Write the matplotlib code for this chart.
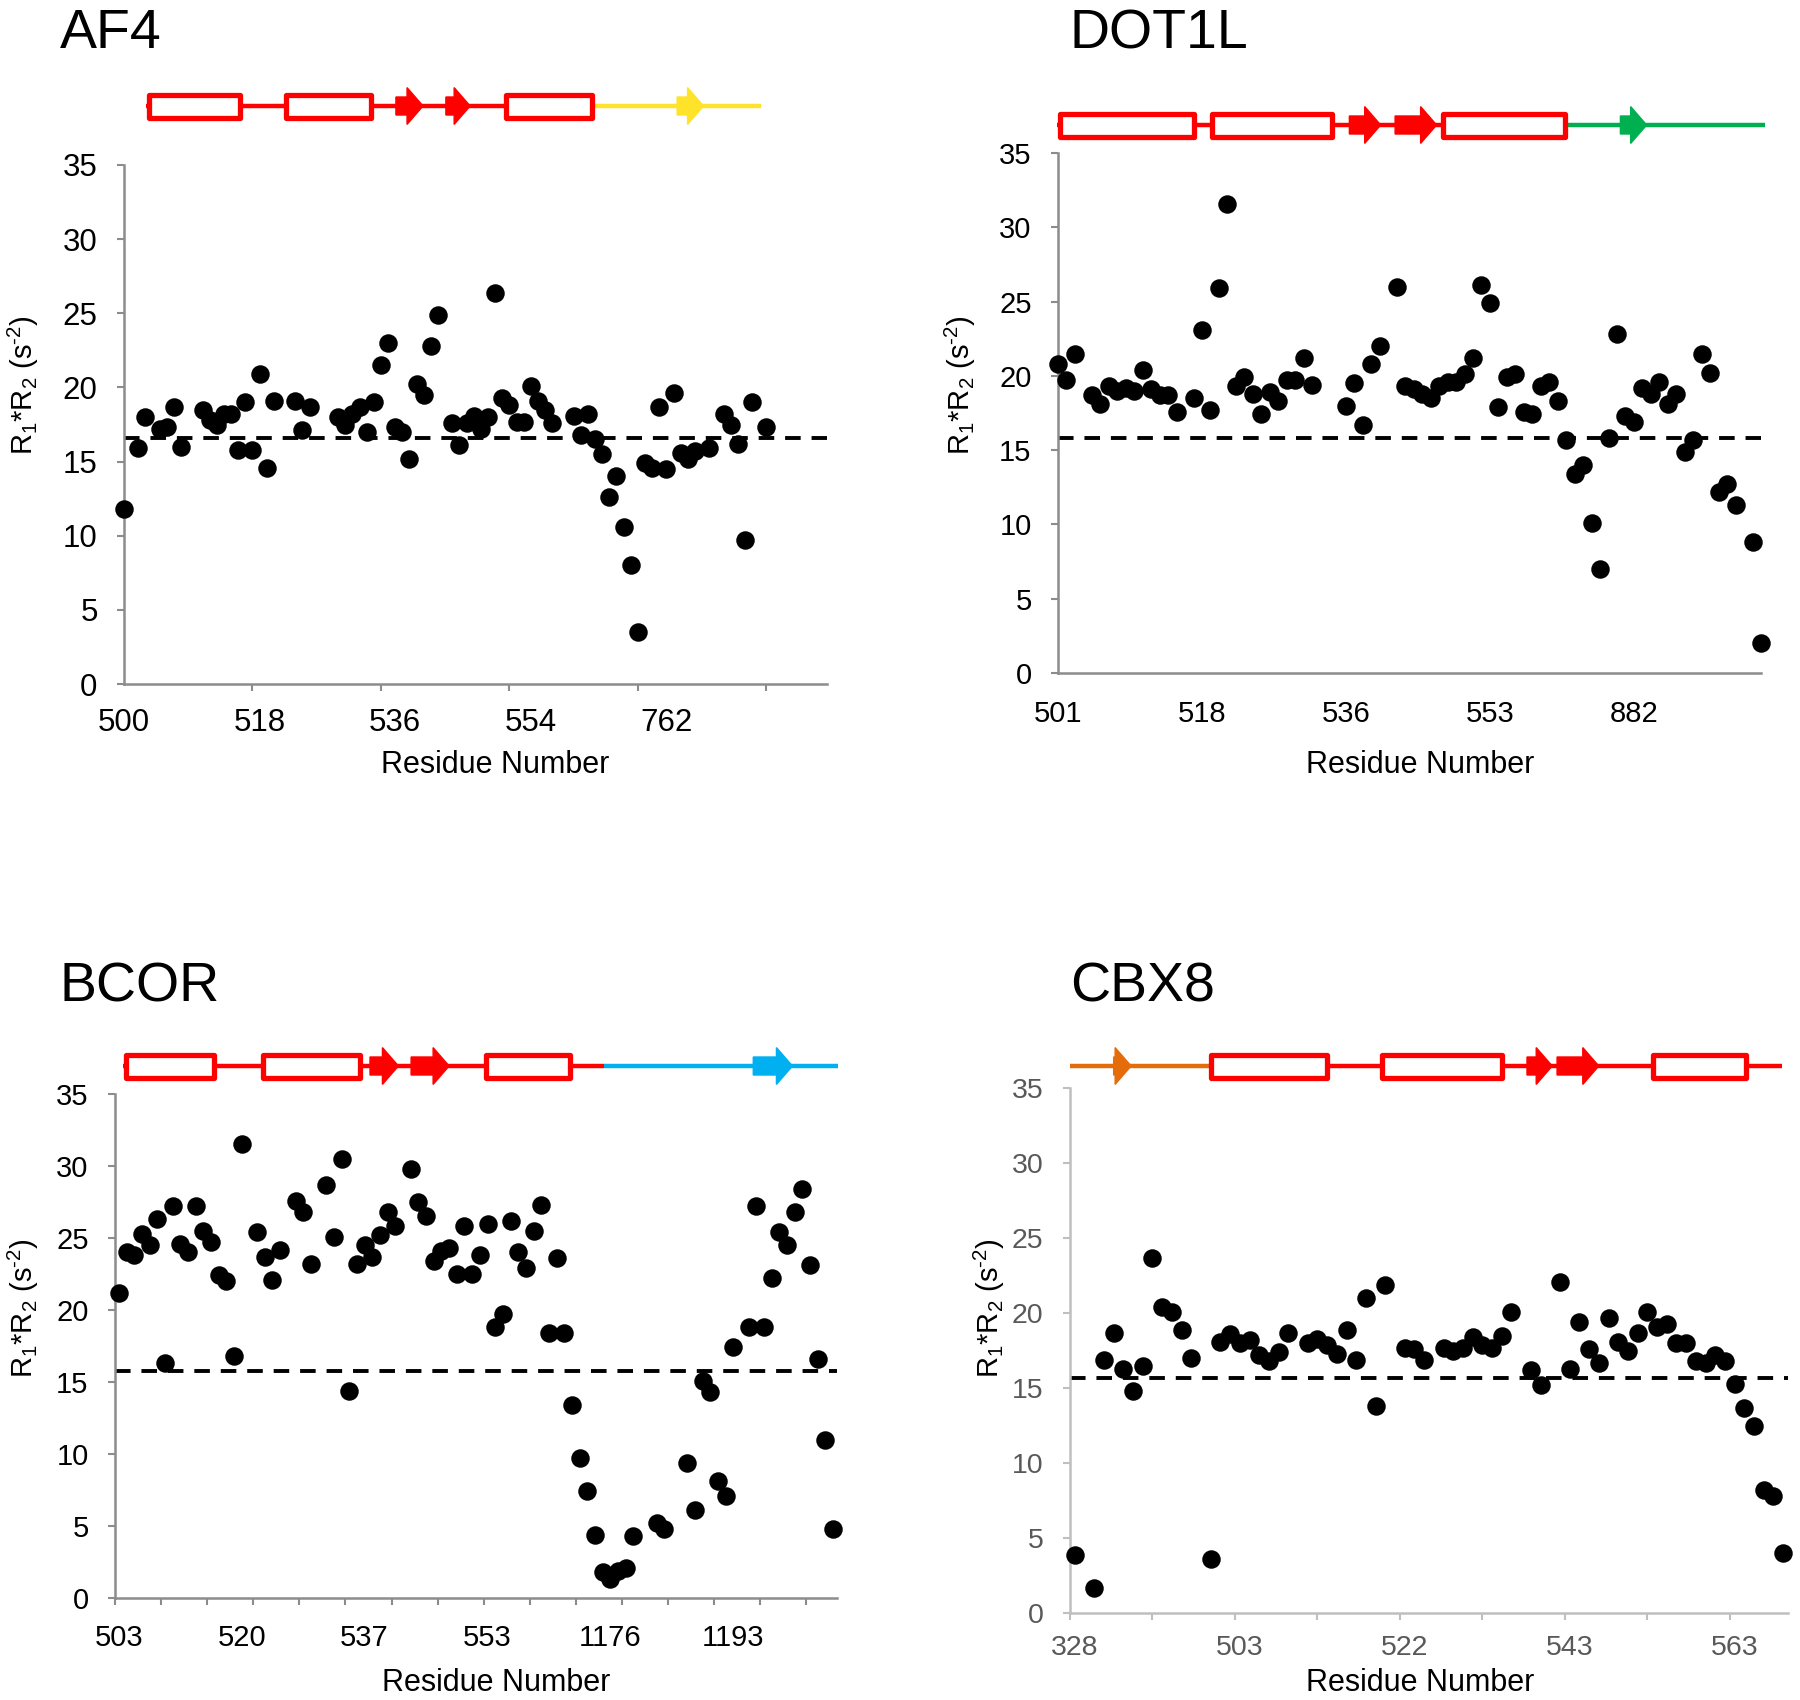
import numpy as np
import matplotlib
matplotlib.use("Agg")
import matplotlib.pyplot as plt
from matplotlib.patches import Rectangle, Polygon

plt.rcParams.update({
    "font.family": "Liberation Sans",
    "mathtext.fontset": "custom",
    "mathtext.rm": "Liberation Sans",
    "mathtext.it": "Liberation Sans:italic",
    "mathtext.bf": "Liberation Sans:bold",
})

RED, YELLOW, GREEN, CYAN, ORANGE = "#ff0000", "#ffe32b", "#00b050", "#00b0f0", "#e46c0a"
YLABEL = r"R$_1$*R$_2$ (s$^{\text{-2}}$)"

# ---------------- AF4 ----------------
AF4_IDX = [0, 2, 3, 5, 6, 7, 8, 11, 12, 13, 14, 15, 16, 17, 18, 19, 20, 21, 24, 25, 26,
           30, 31, 32, 33, 34, 35, 36, 37, 38, 39, 40, 41, 42, 43, 44, 46, 47, 48, 49, 50,
           51, 52, 53, 54, 55, 56, 57, 58, 59, 60, 63, 64, 65, 66, 67, 68, 69, 70, 71, 72,
           73, 74, 75, 76, 77, 78, 79, 80, 82, 84, 85, 86, 87, 88, 90]
AF4_VAL = [11.8, 15.9, 18.0, 17.2, 17.3, 18.7, 16.0, 18.5, 17.8, 17.5, 18.2, 18.2, 15.8, 19.0, 15.8, 20.9, 14.6, 19.1, 19.1, 17.1, 18.7,
           18.0, 17.5, 18.2, 18.7, 17.0, 19.0, 21.5, 23.0, 17.3, 17.0, 15.2, 20.2, 19.5, 22.8, 24.9, 17.6, 16.1, 17.6, 18.1, 17.2,
           18.0, 26.4, 19.3, 18.8, 17.7, 17.7, 20.1, 19.1, 18.5, 17.6, 18.1, 16.8, 18.2, 16.5, 15.5, 12.6, 14.0, 10.6, 8.0, 3.5,
           14.9, 14.6, 18.7, 14.5, 19.6, 15.6, 15.2, 15.7, 15.9, 18.2, 17.5, 16.2, 9.7, 19.0, 17.3]
AF4_MEAN = 16.6
AF4_LABELS = ["500", "518", "536", "554", "762"]
AF4_COIL = [(3.1, 65.9, RED), (65.9, 89.3, YELLOW)]
AF4_HELIX = [(3.1, 16.6), (22.4, 34.9), (53.2, 65.9)]
AF4_STRAND = [(38.1, 41.9, RED), (45.1, 48.5, RED), (77.5, 81.2, YELLOW)]

# ---------------- DOT1L ----------------
DOT1L_IDX = [0, 1, 2, 4, 5, 6, 7, 8, 9, 10, 11, 12, 13, 14,
             16, 17, 18, 19, 20, 21, 22, 23, 24, 25, 26, 27, 28, 29, 30,
             34, 35, 36, 37, 38,
             40, 41, 42, 43, 44, 45, 46, 47, 48, 49, 50, 51, 52, 53, 54, 55, 56, 57, 58, 59, 60,
             61, 62, 63, 64, 65, 66, 67, 68, 69, 70, 71, 72, 73, 74, 75, 76, 77, 78, 79, 80,
             82, 83]
DOT1L_VAL = [20.8, 19.7, 21.5, 18.7, 18.1, 19.3, 19.0, 19.2, 19.0, 20.4, 19.1, 18.7, 18.7, 17.6,
             18.5, 23.1, 17.7, 25.9, 31.6, 19.3, 19.9, 18.8, 17.4, 18.9, 18.3, 19.7, 19.7, 21.2, 19.4,
             18.0, 19.5, 16.7, 20.8, 22.0,
             26.0, 19.3, 19.1, 18.8, 18.5, 19.3, 19.6, 19.6, 20.1, 21.2, 26.1, 24.9, 17.9, 19.9, 20.1, 17.6, 17.4, 19.3, 19.6, 18.3, 15.7,
             13.4, 14.0, 10.1, 7.0, 15.8, 22.8, 17.3, 16.9, 19.2, 18.8, 19.6, 18.1, 18.8, 14.9, 15.7, 21.5, 20.2, 12.2, 12.7, 11.3,
             8.8, 2.0]
DOT1L_MEAN = 15.85
DOT1L_LABELS = ["501", "518", "536", "553", "882"]
DOT1L_COIL = [(-0.1, 60.2, RED), (60.2, 83.5, GREEN)]
DOT1L_HELIX = [(-0.1, 16.4), (17.9, 32.6), (45.2, 60.2)]
DOT1L_STRAND = [(34.4, 38.1, RED), (39.8, 44.7, RED), (66.4, 69.5, GREEN)]

# ---------------- BCOR ----------------
BCOR_IDX = list(range(0, 17)) + [18, 19, 20, 21, 23, 24, 25] + list(range(27, 37)) + \
           list(range(38, 68)) + [70, 71] + list(range(74, 81)) + list(range(82, 94))
BCOR_VAL = [21.2, 24.0, 23.8, 25.3, 24.5, 26.3, 16.3, 27.2, 24.6, 24.0, 27.2, 25.5, 24.7, 22.4, 22.0, 16.8, 31.5,
            25.4, 23.7, 22.1, 24.2, 27.6, 26.8, 23.2,
            28.7, 25.1, 30.5, 14.4, 23.2, 24.5, 23.7, 25.2, 26.8, 25.8,
            29.8, 27.5, 26.5, 23.4, 24.1, 24.3, 22.5, 25.8, 22.5, 23.8, 26.0, 18.8, 19.7, 26.2, 24.0,
            22.9, 25.5, 27.3, 18.4, 23.6, 18.4, 13.4, 9.7, 7.4, 4.4, 1.8, 1.3, 1.9, 2.1, 4.3,
            5.2, 4.8,
            9.4, 6.1, 15.1, 14.3, 8.1, 7.1, 17.4,
            18.8, 27.2, 18.8, 22.2, 25.4, 24.5, 26.8, 28.4, 23.1, 16.6, 11.0, 4.8]
BCOR_MEAN = 15.76
BCOR_LABELS = ["503", "520", "537", "553", "1176", "1193"]
BCOR_COIL = [(0.6, 63.2, RED), (63.2, 93.6, CYAN)]
BCOR_HELIX = [(0.6, 12.7), (18.5, 31.7), (47.5, 59.1)]
BCOR_STRAND = [(32.7, 36.4, RED), (38.05, 43.0, RED), (82.6, 87.7, CYAN)]

# ---------------- CBX8 ----------------
CBX8_IDX = [0] + list(range(2, 13)) + list(range(14, 23)) + list(range(24, 33)) + [34, 35, 36] + \
           list(range(38, 46)) + [47, 48] + list(range(50, 74))
CBX8_VAL = [3.9,
            1.7, 16.9, 18.7, 16.3, 14.8, 16.5, 23.7, 20.4, 20.1, 18.9, 17.0,
            3.6, 18.1, 18.6, 18.0, 18.2, 17.2, 16.8, 17.4, 18.7,
            18.0, 18.3, 17.9, 17.3, 18.9, 16.9, 21.0, 13.8, 21.9,
            17.7, 17.6, 16.9,
            17.7, 17.5, 17.7, 18.4, 17.9, 17.7, 18.5, 20.1,
            16.2, 15.2,
            22.1, 16.3, 19.4, 17.6, 16.7, 19.7, 18.1, 17.5, 18.7, 20.1, 19.1, 19.3,
            18.0, 18.0, 16.8, 16.7, 17.2, 16.8, 15.3, 13.7, 12.5, 8.2, 7.8, 4.0]
CBX8_MEAN = 15.68
CBX8_LABELS = ["328", "503", "522", "543", "563"]
CBX8_COIL = [(-0.5, 13.8, ORANGE), (13.8, 72.9, RED)]
CBX8_HELIX = [(13.8, 26.2), (31.4, 44.3), (59.3, 69.4)]
CBX8_STRAND = [(4.0, 5.8, ORANGE), (46.6, 49.2, RED), (49.7, 54.0, RED)]

FW, FH = 1800, 1700
fig = plt.figure(figsize=(FW / 100, FH / 100), dpi=100)


def draw_ss(rect, xlim, y_center, coils, helices, strands):
    left, width = rect[0], rect[2]
    ax = fig.add_axes([left, 1 - (y_center + 20) / FH, width, 40 / FH])
    ax.set_xlim(*xlim)
    ax.set_ylim(-1, 1)
    ax.axis("off")
    ppu = width * FW / (xlim[1] - xlim[0])   # pixels per category
    for a, b, c in coils:
        ax.plot([a, b], [0, 0], color=c, lw=3.2, solid_capstyle="butt", clip_on=False, zorder=1)
    ins = 2.5 / ppu
    for a, b in helices:
        ax.add_patch(Rectangle((a + ins, -0.575), b - a - 2 * ins, 1.15, fc="white", ec=RED,
                               lw=3.8, joinstyle="round", clip_on=False, zorder=2))
    head = 16 / ppu
    for a, b, c in strands:
        h0 = max(a, b - head)
        pts = [(a, -0.45), (h0, -0.45), (h0, -0.92), (b, 0), (h0, 0.92), (h0, 0.45), (a, 0.45)]
        ax.add_patch(Polygon(pts, closed=True, fc=c, ec=c, lw=1, clip_on=False, zorder=3))


def make_panel(rect, idx, val, mean, xlim, lab_pos, labels, mark_pos, fs, tcol, acol, xpad):
    ax = fig.add_axes(rect)
    ax.plot(idx, val, "o", color="black", ms=12.3, clip_on=False, zorder=3)
    ax.axhline(mean, color="black", lw=2.8, dashes=(4, 2.8), zorder=2)
    ax.set_xlim(*xlim)
    ax.set_ylim(0, 35)
    ax.set_yticks(np.arange(0, 36, 5))
    ax.set_xticks(lab_pos)
    ax.set_xticklabels(labels)
    ax.set_xticks(mark_pos, minor=True)
    for s in ("top", "right"):
        ax.spines[s].set_visible(False)
    for s in ("left", "bottom"):
        ax.spines[s].set_color(acol)
        ax.spines[s].set_linewidth(1.8)
    ax.tick_params(axis="x", which="major", length=0, pad=xpad, labelsize=fs, labelcolor=tcol)
    ax.tick_params(axis="x", which="minor", length=5, width=1.5, color=acol)
    ax.tick_params(axis="y", length=5, width=1.5, color=acol, pad=14, labelsize=fs, labelcolor=tcol)
    return ax


# AF4
r = [124 / FW, 1 - 684 / FH, (827 - 124) / FW, (684 - 165) / FH]
make_panel(r, AF4_IDX, AF4_VAL, AF4_MEAN, (0, 98.5), [0, 19, 38, 57, 76], AF4_LABELS,
           np.arange(0, 91, 18), 22.5, "black", "#8c8c8c", 17)
draw_ss(r, (0, 98.5), 106, AF4_COIL, AF4_HELIX, AF4_STRAND)

# DOT1L
r = [1058 / FW, 1 - 673 / FH, (1761 - 1058) / FW, (673 - 153) / FH]
make_panel(r, DOT1L_IDX, DOT1L_VAL, DOT1L_MEAN, (0, 83), [0, 17, 34, 51, 68], DOT1L_LABELS,
           [0, 17, 34, 51, 68], 21, "black", "#8c8c8c", 19.5)
draw_ss(r, (0, 83), 125, DOT1L_COIL, DOT1L_HELIX, DOT1L_STRAND)

# BCOR
r = [115 / FW, 1 - 1598 / FH, (837 - 115) / FW, (1598 - 1094) / FH]
make_panel(r, BCOR_IDX, BCOR_VAL, BCOR_MEAN, (-0.5, 93.5), [0, 16, 32, 48, 64, 80], BCOR_LABELS,
           np.arange(-0.5, 90, 6), 21, "black", "#8c8c8c", 19)
draw_ss(r, (-0.5, 93.5), 1066, BCOR_COIL, BCOR_HELIX, BCOR_STRAND)

# CBX8
r = [1070 / FW, 1 - 1613 / FH, (1788 - 1070) / FW, (1613 - 1088) / FH]
make_panel(r, CBX8_IDX, CBX8_VAL, CBX8_MEAN, (-0.5, 73.5), [0, 17, 34, 51, 68], CBX8_LABELS,
           np.arange(-0.5, 68, 8.5), 20.5, "#595959", "#bfbfbf", 16)
draw_ss(r, (-0.5, 73.5), 1066, CBX8_COIL, CBX8_HELIX, CBX8_STRAND)

# titles and axis labels
for name, x, y in [("AF4", 60, 48.5), ("DOT1L", 1070, 48.5), ("BCOR", 60, 1002), ("CBX8", 1070, 1002)]:
    fig.text(x / FW, 1 - y / FH, name, fontsize=40, ha="left", va="baseline")
for x, y in [(23, 385), (960, 385), (23, 1308), (989, 1308)]:
    fig.text(x / FW, 1 - y / FH, YLABEL, fontsize=21, rotation=90, ha="center", va="center")
for x, y in [(495, 765), (1420, 765), (496, 1683), (1420, 1683)]:
    fig.text(x / FW, 1 - y / FH, "Residue Number", fontsize=22, ha="center", va="center")

fig.savefig("out.png", dpi=100, facecolor="white")
